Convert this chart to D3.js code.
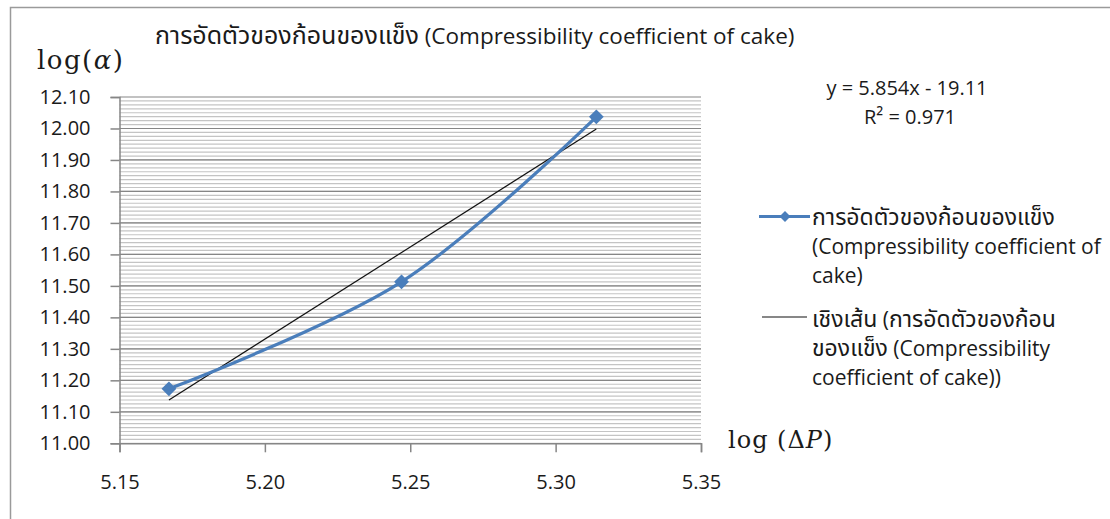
<!DOCTYPE html>
<html lang="th">
<head>
<meta charset="UTF-8" />
<title>Compressibility coefficient of cake</title>
<script src="https://d3js.org/d3.v7.min.js"></script>
<style>
  body { margin: 0; background: #fff; }
  svg text { fill: #1a1a1a; }
</style>
</head>
<body>
<div id="chart"></div>
<script>
  // data
  const logDP = [5.167, 5.247, 5.314];
  const logAlpha = [11.173, 11.513, 12.037];
  const trendSlope = 5.854;
  const trendIntercept = -19.11;
  const xTicks = [5.15, 5.20, 5.25, 5.30, 5.35];
  const yTicks = [11.00, 11.10, 11.20, 11.30, 11.40, 11.50, 11.60, 11.70, 11.80, 11.90, 12.00, 12.10];
  const titleText = "การอัดตัวของก้อนของแข็ง (Compressibility coefficient of cake)";
  const legend1 = ["การอัดตัวของก้อนของแข็ง", "(Compressibility coefficient of", "cake)"];
  const legend2 = ["เชิงเส้น (การอัดตัวของก้อน", "ของแข็ง (Compressibility", "coefficient of cake))"];
  const eqLines = ["y = 5.854x - 19.11", "R² = 0.971"];

  const width = 1110, height = 519;
  const plot = { left: 119.5, right: 701, top: 97, bottom: 443.3 };
  const uiFont = "'Open Sans', 'Noto Sans', 'Noto Sans Thai', sans-serif";
  const mathFont = "'DejaVu Serif', 'Liberation Serif', serif";
  const blue = "#4a7ebb";

  // Thai glyphs are drawn bigger than the latin ones in the original
  function mixedText(sel, str, size, thaiSize) {
    str.split(/([\u0E00-\u0E7F]+)/).filter(s => s.length).forEach(part => {
      sel.append("tspan")
        .attr("font-size", /[\u0E00-\u0E7F]/.test(part) ? thaiSize : size)
        .text(part);
    });
  }

  const svg = d3.select("#chart").append("svg")
    .attr("width", width).attr("height", height);

  // chart border (only left/top visible, rest is cropped)
  svg.append("rect")
    .attr("x", 10.5).attr("y", 7.5)
    .attr("width", width + 20).attr("height", height + 20)
    .attr("fill", "none").attr("stroke", "#9a9a9a").attr("stroke-width", 1.5);

  const x = d3.scaleLinear().domain([5.15, 5.35]).range([plot.left, plot.right]);
  const y = d3.scaleLinear().domain([11.0, 12.1]).range([plot.bottom, plot.top]);

  // minor gridlines
  const minor = d3.range(0, 88).map(i => 11.0 + i * 0.0125).filter(v => v < 12.1);
  svg.append("g").selectAll("line").data(minor).join("line")
    .attr("x1", plot.left).attr("x2", plot.right)
    .attr("y1", d => y(d)).attr("y2", d => y(d))
    .attr("stroke", "#c4c4c4").attr("stroke-width", 1.2);

  // major gridlines
  svg.append("g").selectAll("line").data(yTicks.slice(1)).join("line")
    .attr("x1", plot.left).attr("x2", plot.right)
    .attr("y1", d => y(d)).attr("y2", d => y(d))
    .attr("stroke", "#868686").attr("stroke-width", 1.2);

  // axes
  const yAxis = svg.append("g")
    .attr("transform", `translate(${plot.left},0)`)
    .call(d3.axisLeft(y).tickValues(yTicks).tickFormat(d3.format(".2f")).tickSize(9).tickPadding(20));
  const xAxis = svg.append("g")
    .attr("transform", `translate(0,${plot.bottom})`)
    .call(d3.axisBottom(x).tickValues(xTicks).tickFormat(d3.format(".2f")).tickSize(9).tickPadding(23));
  [yAxis, xAxis].forEach(a => {
    a.select(".domain").attr("stroke", "#868686").attr("stroke-width", 1.5);
    a.selectAll(".tick line").attr("stroke", "#868686").attr("stroke-width", 1.5);
    a.selectAll(".tick text").attr("font-family", uiFont).attr("font-size", 20).attr("fill", "#1a1a1a");
  });

  // trendline
  const tx = d3.extent(logDP);
  svg.append("line")
    .attr("x1", x(tx[0])).attr("y1", y(trendSlope * tx[0] + trendIntercept))
    .attr("x2", x(tx[1])).attr("y2", y(trendSlope * tx[1] + trendIntercept))
    .attr("stroke", "#111").attr("stroke-width", 1.2);

  // smoothed series
  const pts = logDP.map((v, i) => [v, logAlpha[i]]);
  svg.append("path")
    .datum(pts)
    .attr("d", d3.line().x(d => x(d[0])).y(d => y(d[1])).curve(d3.curveCatmullRom.alpha(0.5)))
    .attr("fill", "none").attr("stroke", blue).attr("stroke-width", 3.2);

  const diamond = d3.symbol().type(d3.symbolSquare).size(110);
  svg.append("g").selectAll("path").data(pts).join("path")
    .attr("d", diamond)
    .attr("transform", d => `translate(${x(d[0])},${y(d[1])}) rotate(45)`)
    .attr("fill", blue);

  // title
  const title = svg.append("text")
    .attr("x", 155).attr("y", 44)
    .attr("font-family", uiFont);
  mixedText(title, titleText, 22.5, 25);

  // axis titles
  const yTitle = svg.append("text")
    .attr("x", 37).attr("y", 69)
    .attr("font-family", mathFont).attr("font-size", 26).attr("letter-spacing", 1.5);
  yTitle.append("tspan").text("log(");
  yTitle.append("tspan").attr("font-style", "italic").text("α");
  yTitle.append("tspan").text(")");

  const xTitle = svg.append("text")
    .attr("x", 728).attr("y", 448)
    .attr("font-family", mathFont).attr("font-size", 24).attr("letter-spacing", 1);
  xTitle.append("tspan").text("log (Δ");
  xTitle.append("tspan").attr("font-style", "italic").text("P");
  xTitle.append("tspan").text(")");

  // trend equation
  svg.append("g").selectAll("text").data(eqLines).join("text")
    .attr("x", (d, i) => i === 0 ? 907 : 910)
    .attr("y", (d, i) => 95 + i * 29)
    .attr("text-anchor", "middle")
    .attr("font-family", uiFont).attr("font-size", 20)
    .text(d => d);

  // legend
  const lg = svg.append("g").attr("font-family", uiFont);
  lg.append("line").attr("x1", 759).attr("x2", 810).attr("y1", 216.5).attr("y2", 216.5)
    .attr("stroke", blue).attr("stroke-width", 3.2);
  lg.append("path").attr("d", d3.symbol().type(d3.symbolSquare).size(60))
    .attr("transform", "translate(785,216.5) rotate(45)").attr("fill", blue);
  legend1.forEach((line, i) => {
    mixedText(lg.append("text").attr("x", 812).attr("y", 225 + i * 29), line, 21, 23);
  });

  lg.append("line").attr("x1", 762).attr("x2", 807).attr("y1", 317).attr("y2", 317)
    .attr("stroke", "#111").attr("stroke-width", 1.2);
  legend2.forEach((line, i) => {
    mixedText(lg.append("text").attr("x", 812).attr("y", 327 + i * 29), line, 21, 23);
  });
</script>
</body>
</html>
